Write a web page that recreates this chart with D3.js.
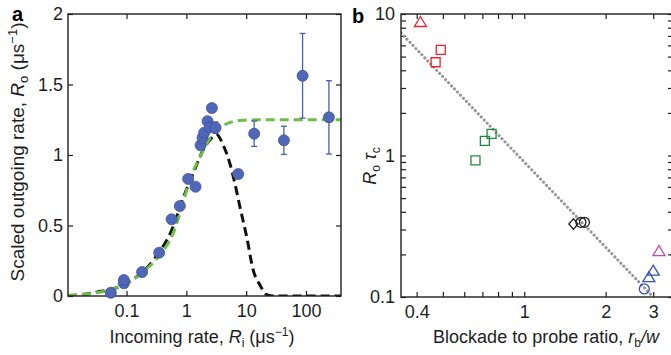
<!DOCTYPE html>
<html>
<head>
<meta charset="utf-8">
<script src="https://cdn.jsdelivr.net/npm/d3@7/dist/d3.min.js"></script>
<style>
  body { margin: 0; background: #fff; }
  svg { display: block; font-family: "Liberation Sans", Arial, sans-serif; }
</style>
</head>
<body>
<svg id="chart" width="671" height="355"></svg>
<script>
const rateIn  = [0.0546, 0.0901, 0.0901, 0.182, 0.351, 0.566, 0.778, 1.072, 1.425, 1.728, 1.866, 1.985, 2.262, 2.472, 2.67, 3.077, 7.35, 13.6, 42.7, 87.7, 241.5];
const rateOut = [0.023, 0.09, 0.113, 0.17, 0.307, 0.544, 0.638, 0.83, 0.775, 1.069, 1.123, 1.158, 1.24, 1.196, 1.333, 1.194, 0.865, 1.151, 1.104, 1.562, 1.267];
const rateErr = [0, 0, 0, 0, 0, 0, 0, 0, 0, 0, 0, 0, 0, 0, 0, 0.04, 0.03, 0.09, 0.1, 0.3, 0.26];

// model curves, sampled from the figure
const greenIn  = [0.0105, 0.0277, 0.0526, 0.1, 0.19, 0.36, 0.6, 0.8, 1.14, 1.8, 2.64, 3.63, 5.3, 7.85, 20, 385];
const greenOut = [0.005, 0.02, 0.043, 0.09, 0.172, 0.291, 0.444, 0.6, 0.823, 1.01, 1.135, 1.194, 1.23, 1.245, 1.25, 1.25];
const blackIn  = [0.0105, 0.03, 0.1, 0.3, 0.6, 0.86, 1.3, 1.91, 2.63, 3.2, 4.13, 5.34, 6.47, 7.85, 10.2, 13.1, 17, 22, 30, 385];
const blackOut = [0, 0.025, 0.09, 0.27, 0.49, 0.68, 0.87, 1.035, 1.12, 1.145, 1.07, 0.94, 0.8, 0.633, 0.42, 0.184, 0.078, 0.01, 0, 0];

const xTicksA = [0.1, 1, 10, 100];
const yTicksA = [0, 0.5, 1, 1.5, 2];

// ---- panel b: scaled rate vs blockade ratio ----
const bRatio = [0.413, 0.491, 0.47, 0.66, 0.715, 0.757, 1.52, 1.62, 1.67, 3.15, 3.0, 2.89, 2.78];
const bValue = [8.78, 5.57, 4.56, 0.925, 1.27, 1.42, 0.328, 0.337, 0.337, 0.211, 0.1535, 0.138, 0.114];
const bGroup = ['redTri', 'redSq', 'redSq', 'greenSq', 'greenSq', 'greenSq', 'blackDia', 'blackCirc', 'blackCirc', 'magTri', 'blueTri', 'blueTri', 'blueCirc'];

const fitRatio = [0.35, 3.0];
const fitValue = [7.35, 0.1];

const xTicksB = [0.4, 0.5, 0.6, 0.7, 0.8, 0.9, 1, 2, 3];
const xLabelsB = [0.4, 1, 2, 3];
const yTicksB = [0.1, 0.2, 0.3, 0.4, 0.5, 0.6, 0.7, 0.8, 0.9, 1, 2, 3, 4, 5, 6, 7, 8, 9, 10];
const yLabelsB = [0.1, 1, 10];

const svg = d3.select('#chart');
const ink = '#1e1e1e';
const fmt = d3.format('~g');

function styleAxis(g) {
    g.select('.domain').remove();
    g.selectAll('.tick line').attr('stroke', ink).attr('stroke-width', 1.2);
    g.selectAll('.tick text').attr('fill', ink).style('font-size', '18px');
}

// ================= panel a =================
const ax = d3.scaleLog().domain([0.0105, 385]).range([68, 341]);
const ay = d3.scaleLinear().domain([0, 2]).range([296, 14]);

svg.append('defs').append('clipPath').attr('id', 'clipA')
    .append('rect').attr('x', 68).attr('y', 14).attr('width', 273).attr('height', 282);

const gA = svg.append('g');

gA.append('g').attr('transform', 'translate(0,296)')
    .call(d3.axisBottom(ax).tickValues(xTicksA).tickFormat(fmt).tickSize(-5).tickPadding(8))
    .call(styleAxis);
gA.append('g').attr('transform', 'translate(0,14)')
    .call(d3.axisTop(ax).tickValues(xTicksA).tickFormat('').tickSize(-5))
    .call(styleAxis);
gA.append('g').attr('transform', 'translate(68,0)')
    .call(d3.axisLeft(ay).tickValues(yTicksA).tickFormat(fmt).tickSize(-5).tickPadding(5))
    .call(styleAxis);
gA.append('g').attr('transform', 'translate(341,0)')
    .call(d3.axisRight(ay).tickValues(yTicksA).tickFormat('').tickSize(-5))
    .call(styleAxis);

const lineA = d3.line().x(d => ax(d[0])).y(d => ay(d[1])).curve(d3.curveMonotoneX);
const curves = gA.append('g').attr('clip-path', 'url(#clipA)');
curves.append('path')
    .attr('d', lineA(d3.zip(blackIn, blackOut)))
    .attr('fill', 'none').attr('stroke', '#111').attr('stroke-width', 3)
    .attr('stroke-dasharray', '9,5');
curves.append('path')
    .attr('d', lineA(d3.zip(greenIn, greenOut)))
    .attr('fill', 'none').attr('stroke', '#6cbf45').attr('stroke-width', 3)
    .attr('stroke-dasharray', '9,5');

gA.append('rect').attr('x', 68).attr('y', 14).attr('width', 273).attr('height', 282)
    .attr('fill', 'none').attr('stroke', ink).attr('stroke-width', 1.4);

const pts = d3.range(rateIn.length).map(i => ({ x: rateIn[i], y: rateOut[i], e: rateErr[i] }));
const blue = '#4a5fb2';
const errG = gA.append('g').attr('stroke', blue).attr('stroke-width', 1.3);
pts.filter(d => d.e > 0).forEach(d => {
    const cx = ax(d.x);
    errG.append('line').attr('x1', cx).attr('x2', cx).attr('y1', ay(d.y - d.e)).attr('y2', ay(d.y + d.e));
    errG.append('line').attr('x1', cx - 3).attr('x2', cx + 3).attr('y1', ay(d.y - d.e)).attr('y2', ay(d.y - d.e));
    errG.append('line').attr('x1', cx - 3).attr('x2', cx + 3).attr('y1', ay(d.y + d.e)).attr('y2', ay(d.y + d.e));
});
gA.append('g').selectAll('circle').data(pts).join('circle')
    .attr('cx', d => ax(d.x)).attr('cy', d => ay(d.y)).attr('r', 5.5)
    .attr('fill', '#5066b6').attr('stroke', '#3d519f').attr('stroke-width', 0.8);

// axis titles a
const titleA = gA.append('text').attr('x', 202).attr('y', 343)
    .attr('text-anchor', 'middle').attr('fill', ink).style('font-size', '18px');
titleA.append('tspan').text('Incoming rate, ');
titleA.append('tspan').attr('font-style', 'italic').text('R');
titleA.append('tspan').attr('dy', 4).style('font-size', '12px').text('i');
titleA.append('tspan').attr('dy', -4).text(' (\u03bcs');
titleA.append('tspan').attr('dy', -7).style('font-size', '12px').text('\u22121');
titleA.append('tspan').attr('dy', 7).text(')');

const yTitleA = gA.append('text').attr('transform', 'translate(24,152) rotate(-90)')
    .attr('text-anchor', 'middle').attr('fill', ink).style('font-size', '19px');
yTitleA.append('tspan').text('Scaled outgoing rate, ');
yTitleA.append('tspan').attr('font-style', 'italic').text('R');
yTitleA.append('tspan').attr('dy', 4).style('font-size', '13px').text('o');
yTitleA.append('tspan').attr('dy', -4).text(' (\u03bcs');
yTitleA.append('tspan').attr('dy', -7).style('font-size', '13px').text('\u22121');
yTitleA.append('tspan').attr('dy', 7).text(')');

svg.append('text').attr('x', 12).attr('y', 21).attr('font-weight', 'bold')
    .attr('fill', '#000').style('font-size', '20px').text('a');

// ================= panel b =================
const bx = d3.scaleLog().domain([0.35, 3.55]).range([401, 673]);
const by = d3.scaleLog().domain([0.1, 10]).range([297, 14]);

svg.select('defs').append('clipPath').attr('id', 'clipB')
    .append('rect').attr('x', 401).attr('y', 14).attr('width', 272).attr('height', 283);

const gB = svg.append('g');
const labelB = list => d => list.includes(d) ? fmt(d) : '';

gB.append('g').attr('transform', 'translate(0,297)')
    .call(d3.axisBottom(bx).tickValues(xTicksB).tickFormat(labelB(xLabelsB)).tickSize(-5).tickPadding(8))
    .call(styleAxis);
gB.append('g').attr('transform', 'translate(0,14)')
    .call(d3.axisTop(bx).tickValues(xTicksB).tickFormat('').tickSize(-5))
    .call(styleAxis);
gB.append('g').attr('transform', 'translate(401,0)')
    .call(d3.axisLeft(by).tickValues(yTicksB).tickFormat(labelB(yLabelsB)).tickSize(-5).tickPadding(6))
    .call(styleAxis);
gB.append('g').attr('transform', 'translate(673,0)')
    .call(d3.axisRight(by).tickValues(yTicksB).tickFormat('').tickSize(-5))
    .call(styleAxis);

gB.append('path')
    .attr('clip-path', 'url(#clipB)')
    .attr('d', d3.line().x(d => bx(d[0])).y(d => by(d[1]))(d3.zip(fitRatio, fitValue)))
    .attr('fill', 'none').attr('stroke', '#969696').attr('stroke-width', 3)
    .attr('stroke-linecap', 'round').attr('stroke-dasharray', '0.1,4.2');

gB.append('rect').attr('x', 401).attr('y', 14).attr('width', 272).attr('height', 283)
    .attr('fill', 'none').attr('stroke', ink).attr('stroke-width', 1.4);

const markerStyle = {
    redTri:    { color: '#e8262c', shape: 'tri' },
    redSq:     { color: '#e8262c', shape: 'sq' },
    greenSq:   { color: '#1f8a3d', shape: 'sq' },
    blackDia:  { color: '#222',    shape: 'dia' },
    blackCirc: { color: '#222',    shape: 'circ' },
    magTri:    { color: '#c64cb2', shape: 'tri' },
    blueTri:   { color: '#3652b4', shape: 'tri' },
    blueCirc:  { color: '#3652b4', shape: 'circ' }
};
const shapePath = {
    tri:  'M0,-5.5L6,4.5L-6,4.5Z',
    sq:   'M-4.5,-4.5H4.5V4.5H-4.5Z',
    dia:  'M0,-5.2L4.6,0L0,5.2L-4.6,0Z',
    circ: d3.symbol(d3.symbolCircle, 78)()
};
gB.append('g').selectAll('path')
    .data(d3.range(bRatio.length))
    .join('path')
    .attr('transform', i => `translate(${bx(bRatio[i])},${by(bValue[i])})`)
    .attr('d', i => shapePath[markerStyle[bGroup[i]].shape])
    .attr('fill', 'none')
    .attr('stroke', i => markerStyle[bGroup[i]].color)
    .attr('stroke-width', 1.3);

const titleB = gB.append('text').attr('x', 546).attr('y', 343)
    .attr('text-anchor', 'middle').attr('fill', ink).style('font-size', '18px');
titleB.append('tspan').text('Blockade to probe ratio, ');
titleB.append('tspan').attr('font-style', 'italic').text('r');
titleB.append('tspan').attr('dy', 4).style('font-size', '12px').text('b');
titleB.append('tspan').attr('dy', -4).attr('font-style', 'italic').text('/w');

const yTitleB = gB.append('text').attr('transform', 'translate(376,166) rotate(-90)')
    .attr('text-anchor', 'middle').attr('fill', ink).style('font-size', '18px');
yTitleB.append('tspan').attr('font-style', 'italic').text('R');
yTitleB.append('tspan').attr('dy', 4).style('font-size', '12px').text('o');
yTitleB.append('tspan').attr('dy', -4).attr('font-style', 'italic').text(' \u03c4');
yTitleB.append('tspan').attr('dy', 4).style('font-size', '12px').text('c');

svg.append('text').attr('x', 352).attr('y', 23).attr('font-weight', 'bold')
    .attr('fill', '#000').style('font-size', '20px').text('b');
</script>
</body>
</html>
